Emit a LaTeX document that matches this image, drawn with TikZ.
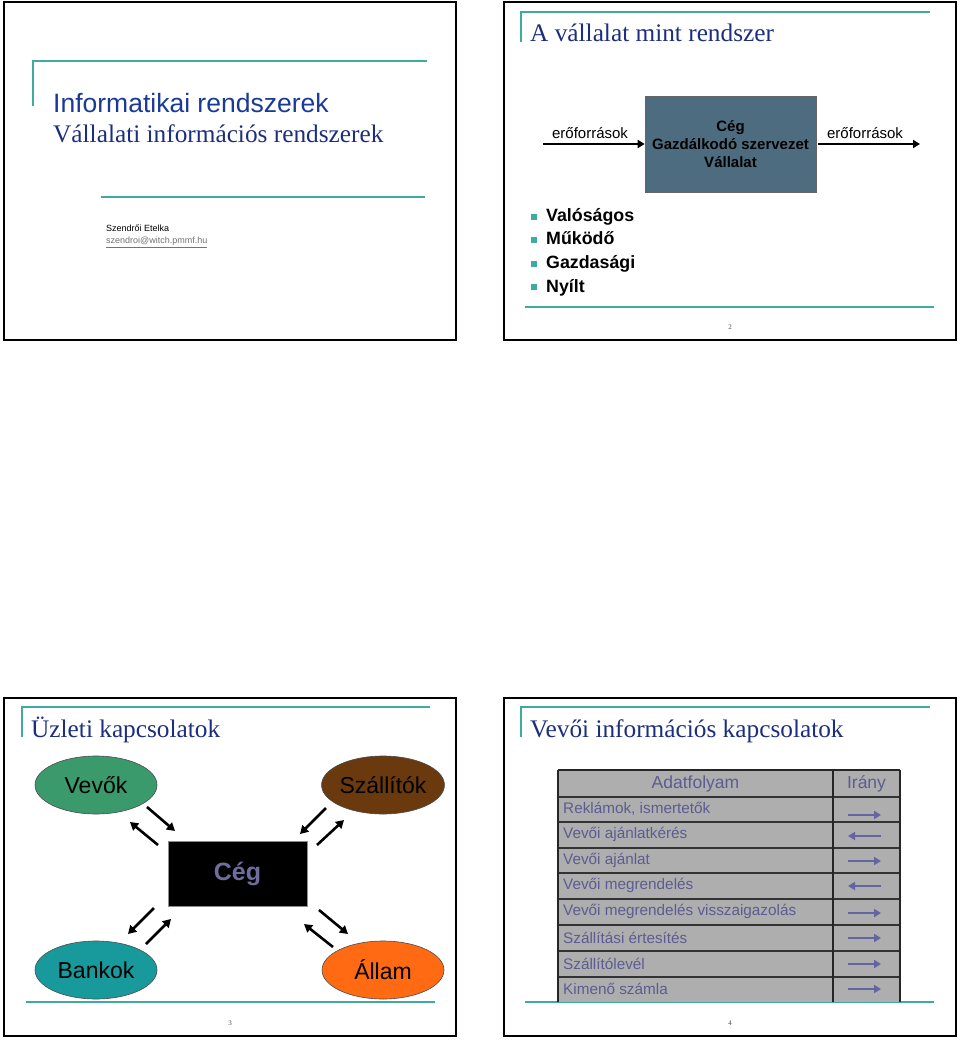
\documentclass[tikz,border=0pt]{standalone}
\usepackage{fontspec}
\setmainfont{Liberation Serif}
\setsansfont{Liberation Sans}
\usetikzlibrary{arrows.meta,shapes.geometric}
\definecolor{teal1}{HTML}{3FA9A2}
\definecolor{navy}{HTML}{1B2F7E}
\definecolor{navyb}{HTML}{1A3A96}
\definecolor{slate}{HTML}{4E6C7F}
\definecolor{vgreen}{HTML}{3A9A6C}
\definecolor{sbrown}{HTML}{6A3A0E}
\definecolor{bteal}{HTML}{189A9C}
\definecolor{aorange}{HTML}{FF6A12}
\definecolor{cegtxt}{HTML}{6E6E9E}
\definecolor{tgrey}{HTML}{AEAEAE}
\definecolor{ttxt}{HTML}{5C5C92}
\definecolor{tarr}{HTML}{6464A2}
\tikzset{
  slideframe/.style={draw=black,line width=2.8pt},
  tline/.style={draw=teal1,line width=1.3pt},
  stitle/.style={anchor=base west,inner sep=0pt,text=navy,font=\fontsize{25.3}{28}\selectfont},
  pagenum/.style={inner sep=0pt,font=\fontsize{7}{8}\selectfont,text=black!70},
  blkarr/.style={line width=2.6pt,-{Triangle[length=8pt,width=9pt]}},
  ell/.style={ellipse,draw=black!70,line width=0.6pt,minimum width=122pt,minimum height=58pt,inner sep=0pt,font=\sffamily\fontsize{23}{25}\selectfont,text=black},
  rowtxt/.style={anchor=west,inner sep=0pt,text=ttxt,font=\sffamily\fontsize{15.3}{17}\selectfont},
  tabarr/.style={draw=tarr,line width=2.6pt,-{Triangle[length=7pt,width=8pt]}},
  bul/.style={fill=teal1,minimum size=6pt,inner sep=0pt},
  bultxt/.style={anchor=base west,inner sep=0pt,font=\sffamily\bfseries\fontsize{17.8}{20}\selectfont},
}
\begin{document}
\begin{tikzpicture}[x=1pt,y=-1pt]
\useasboundingbox (0,0) rectangle (960,1040);
\fill[white] (0,0) rectangle (960,1040);

% ---------------- Slide 1 ----------------
\draw[slideframe] (4,2) rectangle (456,340);
\draw[tline] (33,106) -- (33,61) -- (427,61);
\draw[tline] (101,197) -- (425,197);
\node[anchor=base west,inner sep=0pt,text=navyb,font=\sffamily\fontsize{26.5}{28}\selectfont] (t1) at (53,113) {Informatikai rendszerek};
\node[stitle] (t1b) at (53,143) {Vállalati információs rendszerek};
\node[anchor=base west,inner sep=0pt,font=\sffamily\fontsize{9}{10}\selectfont] (auth) at (106,232) {Szendrői Etelka};
\node[anchor=base west,inner sep=0pt,text=black!55,font=\sffamily\fontsize{9}{10}\selectfont] (mail) at (106,244) {\underline{szendroi@witch.pmmf.hu}};

% ---------------- Slide 2 ----------------
\draw[slideframe] (504,2) rectangle (956,340);
\draw[tline] (521,42) -- (521,12) -- (930,12);
\draw[tline] (525,307) -- (934,307);
\node[stitle] (t2) at (530,42) {A vállalat mint rendszer};
\node[draw=black!60,line width=0.6pt,fill=slate,minimum width=171pt,minimum height=96pt,inner sep=0pt,align=center,font=\sffamily\bfseries\fontsize{15}{18}\selectfont] (ceg2) at (730.5,144) {Cég\\Gazdálkodó szervezet\\Vállalat};
\coordinate (inL) at (543,144);
\coordinate (outR) at (920,144);
\draw[line width=2.4pt,-{Triangle[length=7pt,width=8pt]}] (inL) -- (ceg2.west);
\draw[line width=2.4pt,-{Triangle[length=7pt,width=8pt]},shorten <=2pt] (ceg2.east) -- (outR);
\node[anchor=base,inner sep=0pt,font=\sffamily\fontsize{15}{17}\selectfont] (lin) at (590,139) {erőforrások};
\node[anchor=base,inner sep=0pt,font=\sffamily\fontsize{15}{17}\selectfont] (lout) at (865,139) {erőforrások};
\node[bul] (b1) at (534,217) {};
\node[bul] (b2) at (534,240) {};
\node[bul] (b3) at (534,264) {};
\node[bul] (b4) at (534,287) {};
\node[bultxt] (bt1) at (546,222) {Valóságos};
\node[bultxt] (bt2) at (546,245) {Működő};
\node[bultxt] (bt3) at (546,269) {Gazdasági};
\node[bultxt] (bt4) at (546,292) {Nyílt};
\node[pagenum] (p2) at (730,327) {2};

% ---------------- Slide 3 ----------------
\draw[slideframe] (4,698) rectangle (456,1036);
\draw[tline] (22,737) -- (22,707) -- (430,707);
\draw[tline] (26,1002) -- (435,1002);
\node[stitle] (t3) at (31,737) {Üzleti kapcsolatok};
\node[ell,fill=vgreen] (vevok) at (96,785) {Vevők};
\node[ell,fill=sbrown] (szall) at (383,785) {Szállítók};
\node[ell,fill=bteal] (bank) at (96,970) {Bankok};
\node[ell,fill=aorange] (allam) at (383,970) {Állam};
\node[fill=black,draw=black!45,line width=0.8pt,minimum width=139pt,minimum height=65pt,inner sep=0pt,text=cegtxt,font=\sffamily\bfseries\fontsize{25}{27}\selectfont] (ceg3) at (237.5,873.5) {Cég};
\coordinate (a1s) at (147,807); \coordinate (a1e) at (175,831);
\coordinate (a2s) at (158,845); \coordinate (a2e) at (130,822);
\coordinate (a3s) at (326,808); \coordinate (a3e) at (300,834);
\coordinate (a4s) at (317,845); \coordinate (a4e) at (344,820);
\coordinate (a5s) at (154,908); \coordinate (a5e) at (128,934);
\coordinate (a6s) at (146,944); \coordinate (a6e) at (171,919);
\coordinate (a7s) at (319,910); \coordinate (a7e) at (348,934);
\coordinate (a8s) at (333,947); \coordinate (a8e) at (304,924);
\foreach \i in {1,...,8} {\draw[blkarr] (a\i s) -- (a\i e);}
\node[pagenum] (p3) at (230,1023) {3};

% ---------------- Slide 4 ----------------
\draw[slideframe] (504,698) rectangle (956,1036);
\draw[tline] (521,737) -- (521,707) -- (930,707);
\draw[tline] (525,1002) -- (934,1002);
\node[stitle] (t4) at (530,737) {Vevői információs kapcsolatok};
\fill[tgrey] (558,770) rectangle (900,1002);
\foreach \y in {797,822,848,873,899,925,951,977} {\draw[black!80,line width=1.4pt] (558,\y) -- (900,\y);}
\draw[black!85,line width=1.4pt] (558,770) -- (900,770);
\draw[black!85,line width=1.2pt] (833,770) -- (833,1002);
\draw[black!85,line width=2pt] (558,770) -- (558,1002);
\draw[black!85,line width=2pt] (900,770) -- (900,1002);
\node[inner sep=0pt,text=ttxt,font=\sffamily\fontsize{17.5}{19}\selectfont] (h1) at (695.5,783.5) {Adatfolyam};
\node[inner sep=0pt,text=ttxt,font=\sffamily\fontsize{17.5}{19}\selectfont] (h2) at (866.5,783.5) {Irány};
\node[rowtxt] (r1) at (563,808.5) {Reklámok, ismertetők};
\node[rowtxt] (r2) at (563,834.5) {Vevői ajánlatkérés};
\node[rowtxt] (r3) at (563,860) {Vevői ajánlat};
\node[rowtxt] (r4) at (563,885.5) {Vevői megrendelés};
\node[rowtxt] (r5) at (563,911.5) {Vevői megrendelés visszaigazolás};
\node[rowtxt] (r6) at (563,937.5) {Szállítási értesítés};
\node[rowtxt] (r7) at (563,963.5) {Szállítólevél};
\node[rowtxt] (r8) at (563,989) {Kimenő számla};
\coordinate (L1) at (848,815); \coordinate (R1) at (881,815);
\coordinate (L2) at (848,836); \coordinate (R2) at (881,836);
\coordinate (L3) at (848,861); \coordinate (R3) at (881,861);
\coordinate (L4) at (848,886); \coordinate (R4) at (881,886);
\coordinate (L5) at (848,913); \coordinate (R5) at (881,913);
\coordinate (L6) at (848,938); \coordinate (R6) at (881,938);
\coordinate (L7) at (848,964); \coordinate (R7) at (881,964);
\coordinate (L8) at (848,989); \coordinate (R8) at (881,989);
\draw[tabarr] (L1) -- (R1);
\draw[tabarr] (R2) -- (L2);
\draw[tabarr] (L3) -- (R3);
\draw[tabarr] (R4) -- (L4);
\draw[tabarr] (L5) -- (R5);
\draw[tabarr] (L6) -- (R6);
\draw[tabarr] (L7) -- (R7);
\draw[tabarr] (L8) -- (R8);
\node[pagenum] (p4) at (730,1023) {4};
\end{tikzpicture}
\end{document}
